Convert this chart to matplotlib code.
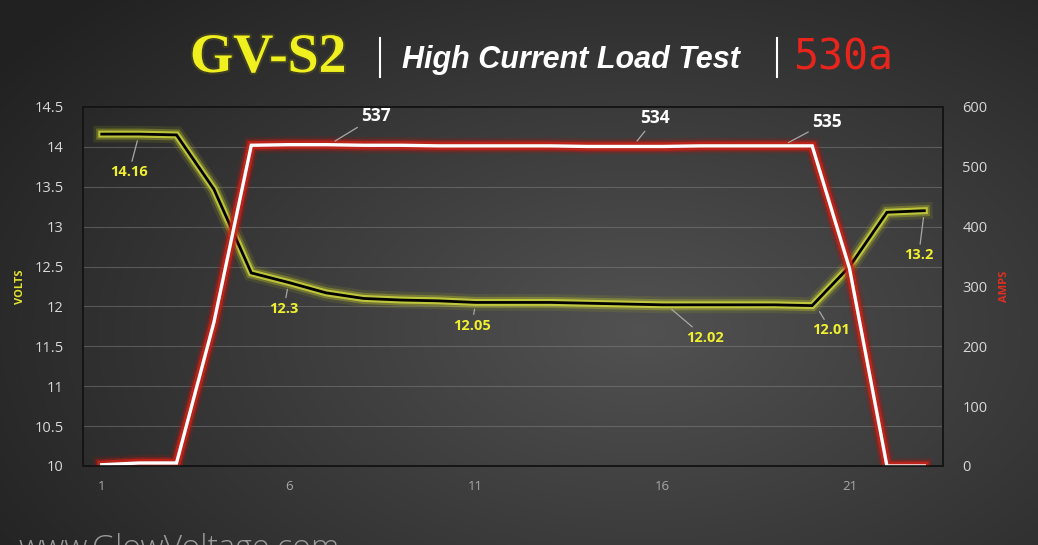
import numpy as np
import matplotlib
matplotlib.use('Agg')
import matplotlib.pyplot as plt
import matplotlib.patheffects as pe
from matplotlib.lines import Line2D
from matplotlib.ticker import FuncFormatter

# data
samples = list(range(1, 24))
volts = [14.16, 14.16, 14.15, 13.47, 12.42, 12.30, 12.17, 12.10, 12.08, 12.07,
         12.05, 12.05, 12.05, 12.04, 12.03, 12.02, 12.02, 12.02, 12.02, 12.01,
         12.50, 13.18, 13.20]
amps = [2, 5, 5, 240, 536, 537, 537, 536, 536, 535,
        535, 535, 535, 534, 534, 534, 535, 535, 535, 535,
        330, 0, 0]
xticks = [1, 6, 11, 16, 21]

# callouts: (text, point x, point y, label x, label y)
volt_labels = [('14.16', 2.0, 14.16, 1.73, 13.68),
               ('12.3', 6.0, 12.30, 5.87, 11.97),
               ('12.05', 11.0, 12.05, 10.9, 11.76),
               ('12.02', 16.1, 12.02, 17.13, 11.61),
               ('12.01', 20.1, 12.01, 20.5, 11.70),
               ('13.2', 23.0, 13.20, 22.85, 12.64)]
amp_labels = [('537', 7.08, 537, 8.34, 585),
              ('534', 15.2, 534, 15.8, 581),
              ('535', 19.2, 535, 20.4, 575)]

fig = plt.figure(figsize=(10.38, 5.45), dpi=100)

# dark radial background
bg = fig.add_axes([0, 0, 1, 1], zorder=-10)
yy, xx = np.mgrid[0:545, 0:1038]
r = np.sqrt(((xx - 640) / 700.0) ** 2 + ((yy - 330) / 420.0) ** 2)
shade = np.clip(0.32 - 0.17 * r, 0.13, 0.32)
bg.imshow(np.dstack([shade] * 3), aspect='auto', extent=[0, 1, 0, 1])
bg.axis('off')

ax = fig.add_axes([0.080, 0.145, 0.8285, 0.6587])
ax.set_facecolor('none')
ax2 = ax.twinx()

yellow_glow = [pe.Stroke(linewidth=12, foreground='#a8b020', alpha=0.15),
               pe.Stroke(linewidth=8, foreground='#c0c828', alpha=0.35),
               pe.Stroke(linewidth=5, foreground='#d8e040', alpha=0.75),
               pe.Normal()]
red_glow = [pe.Stroke(linewidth=12, foreground='#a01810', alpha=0.18),
            pe.Stroke(linewidth=8.5, foreground='#b01c14', alpha=0.45),
            pe.Stroke(linewidth=6, foreground='#c8241a', alpha=0.85),
            pe.Normal()]

ax.plot(samples, volts, color='black', lw=2, path_effects=yellow_glow,
        solid_joinstyle='miter')
ax2.plot(samples, amps, color='white', lw=2.4, path_effects=red_glow,
         solid_joinstyle='miter')

ax.set_xlim(0.5, 23.5)
ax.set_ylim(10, 14.5)
ax2.set_ylim(0, 600)
ax.set_yticks(np.arange(10, 14.51, 0.5))
ax2.set_yticks(np.arange(0, 601, 100))
ax.set_xticks(xticks)
ax.yaxis.set_major_formatter(FuncFormatter(lambda v, p: '%g' % v))

ax.grid(axis='y', color='#8a8a8a', lw=0.8, alpha=0.45)
ax.set_axisbelow(True)
for a in (ax, ax2):
    for s in a.spines.values():
        s.set_color('#151515')
        s.set_linewidth(1.2)
    a.tick_params(length=0)
ax.tick_params(axis='y', colors='#d8d8d8', labelsize=10.5, pad=14)
ax2.tick_params(axis='y', colors='#d8d8d8', labelsize=10.5, pad=14)
ax.tick_params(axis='x', colors='#a8a8a8', labelsize=9.5, pad=10)
for lab in ax.get_yticklabels() + ax2.get_yticklabels() + ax.get_xticklabels():
    lab.set_family('Open Sans')

ax.set_ylabel('VOLTS', color='#e4e430', fontsize=8, fontweight='bold',
              family='Open Sans', labelpad=6)
ax2.set_ylabel('AMPS', color='#e03020', fontsize=8, fontweight='bold',
               family='Open Sans', labelpad=8)

for txt, px, py, lx, ly in volt_labels:
    ax.annotate(txt, xy=(px, py), xytext=(lx, ly), color='#f0f030',
                fontsize=10.5, fontweight='bold', family='Open Sans',
                ha='center', va='center',
                arrowprops=dict(arrowstyle='-', color='#a8a8a8', lw=0.9,
                                shrinkA=1, shrinkB=5))
for txt, px, py, lx, ly in amp_labels:
    ax2.annotate(txt, xy=(px, py), xytext=(lx, ly), color='white',
                 fontsize=12.5, fontweight='bold', family='Open Sans',
                 ha='center', va='center',
                 arrowprops=dict(arrowstyle='-', color='#a8a8a8', lw=0.9,
                                 shrinkA=1, shrinkB=5))

# title
fig.text(0.183, 0.868, 'GV-S2', color='#f0f020', fontsize=40,
         fontweight='bold', family='Liberation Serif', ha='left', va='baseline',
         path_effects=[pe.withStroke(linewidth=3, foreground='#606018', alpha=0.4)])
fig.text(0.387, 0.875, 'High Current Load Test', color='white', fontsize=22,
         fontweight='bold', style='italic', family='Liberation Sans',
         ha='left', va='baseline')
fig.text(0.764, 0.872, '530a', color='#e8251c', fontsize=30,
         family='DejaVu Sans Mono', ha='left', va='baseline')
for xb in (380 / 1038, 777 / 1038):
    fig.add_artist(Line2D([xb, xb], [1 - 38 / 545, 1 - 77 / 545],
                          color='white', lw=1.5, transform=fig.transFigure))

# watermark, cut off at the bottom as in the source image
fig.text(0.018, -0.022, 'www.GlowVoltage.com', color='#9a9a9a', fontsize=23,
         fontweight='light', family='Open Sans', ha='left', va='baseline')

plt.savefig('out.png', dpi=100)
